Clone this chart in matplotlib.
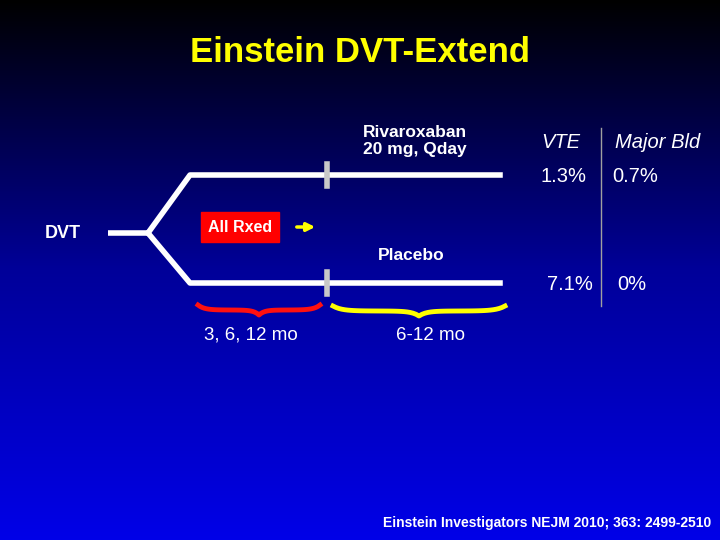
import numpy as np
import matplotlib.pyplot as plt
from matplotlib.colors import LinearSegmentedColormap

title = "Einstein DVT-Extend"
arms = ["Rivaroxaban\n20 mg, Qday", "Placebo"]
columns = ["VTE", "Major Bld"]
riva_vals = ["1.3%", "0.7%"]
placebo_vals = ["7.1%", "0%"]
periods = ["3, 6, 12 mo", "6-12 mo"]
citation = "Einstein Investigators NEJM 2010; 363: 2499-2510"

plt.rcParams['font.family'] = ['Liberation Sans', 'DejaVu Sans']
fig = plt.figure(figsize=(7.2, 5.4), dpi=100)
ax = fig.add_axes([0, 0, 1, 1])
ax.set_xlim(0, 720)
ax.set_ylim(540, 0)
ax.axis('off')

# background gradient black -> blue
cmap = LinearSegmentedColormap.from_list('bg', ['#000000', '#000099', '#0000e8'])
grad = np.linspace(0, 1, 256).reshape(-1, 1)
ax.imshow(grad, cmap=cmap, extent=[0, 720, 540, 0], aspect='auto', zorder=0)

ax.text(360, 52, title, color='#ffff00', fontsize=25, fontweight='bold', ha='center', va='center')

# tree
ax.text(63, 233, "DVT", color='white', fontsize=13, fontweight='bold', ha='center', va='center')
ax.plot([108, 148], [233, 233], color='white', lw=4, solid_capstyle='butt')
ax.plot([148, 190, 500], [233, 175, 175], color='white', lw=4)
ax.plot([148, 190, 500], [233, 283, 283], color='white', lw=4)
for y in (175, 283):
    ax.plot([327, 327], [y - 11, y + 11], color='#c8c8c8', lw=4)

ax.text(240, 227, "All Rxed", color='white', fontsize=11.5, fontweight='bold', ha='center', va='center',
        bbox=dict(boxstyle='square,pad=0.45', fc='#ff0000', ec='#ff0000'))
ax.annotate('', xy=(318, 227), xytext=(294, 227),
            arrowprops=dict(arrowstyle='-|>', color='#ffff00', lw=2.5, mutation_scale=12))

ax.text(415, 141, arms[0], color='white', fontsize=12.5, fontweight='bold', ha='center', va='center',
        linespacing=1.1)
ax.text(411, 255, arms[1], color='white', fontsize=12.5, fontweight='bold', ha='center', va='center')

# table
ax.plot([601, 601], [128, 306], color='#a0a0a0', lw=1)
fs = 14.5
ax.text(561, 143, columns[0], color='white', fontsize=fs, style='italic', ha='center', va='center')
ax.text(658, 143, columns[1], color='white', fontsize=fs, style='italic', ha='center', va='center')
ax.text(563, 177, riva_vals[0], color='white', fontsize=fs, ha='center', va='center')
ax.text(635, 177, riva_vals[1], color='white', fontsize=fs, ha='center', va='center')
ax.text(570, 285, placebo_vals[0], color='white', fontsize=fs, ha='center', va='center')
ax.text(632, 285, placebo_vals[1], color='white', fontsize=fs, ha='center', va='center')

# braces
def brace(x0, x1, y, color):
    xm = (x0 + x1) / 2
    t = np.linspace(0, 1, 30)
    lx = x0 + (xm - x0) * t
    ly = y - 5 * np.exp(-t * 10) + 5 * np.exp(-(1 - t) * 12)
    rx = xm + (x1 - xm) * t
    ry = y + 5 * np.exp(-t * 12) - 5 * np.exp(-(1 - t) * 10)
    ax.plot(np.r_[lx, rx], np.r_[ly, ry], color=color, lw=3.5)

brace(198, 320, 310, '#ff1010')
brace(333, 505, 311, '#ffff00')
ax.text(251, 335, periods[0], color='white', fontsize=13.5, ha='center', va='center')
ax.text(430, 335, periods[1], color='white', fontsize=13.5, ha='center', va='center')

ax.text(547, 523, citation, color='white', fontsize=10, fontweight='bold', ha='center', va='center')

fig.savefig('out.png', dpi=100)
